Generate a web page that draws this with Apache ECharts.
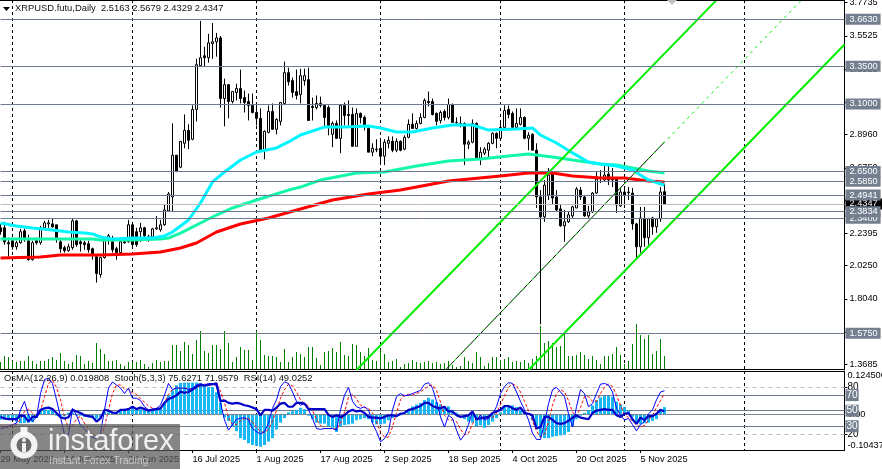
<!DOCTYPE html>
<html><head><meta charset="utf-8">
<script src="https://cdn.jsdelivr.net/npm/echarts@6/dist/echarts.min.js"></script>
<style>html,body{margin:0;padding:0;background:#fff}#c{width:882px;height:469px}</style>
</head><body><div id="c"></div>
<script>
const startDate = '2025-05-29';
const totalBars = 212;
const opens = [2.276,2.276,2.177,2.190,2.150,2.177,2.256,2.190,2.064,2.190,2.177,2.276,2.302,2.302,2.296,2.183,2.144,2.124,2.144,2.322,2.183,2.177,2.170,2.137,2.084,1.965,2.078,2.197,2.183,2.137,2.111,2.183,2.183,2.296,2.250,2.250,2.276,2.216,2.216,2.269,2.263,2.296,2.388,2.481,2.759,2.679,2.838,2.924,2.865,3.063,3.354,3.420,3.407,3.500,3.513,3.539,3.136,3.228,3.116,3.176,3.202,3.142,3.116,3.090,3.043,3.004,2.792,2.911,3.050,2.931,2.984,3.103,3.308,3.255,3.182,3.162,3.255,3.261,3.083,3.076,3.103,3.090,3.076,2.898,2.970,2.871,3.090,3.030,3.030,2.818,3.037,3.010,2.937,2.779,2.799,2.805,2.752,2.838,2.851,2.792,2.851,2.799,2.878,2.964,2.937,2.970,3.010,3.116,3.116,3.037,2.990,3.050,3.010,3.096,2.977,2.970,2.970,2.832,2.845,2.970,2.739,2.772,2.792,2.838,2.904,2.871,2.944,3.063,3.037,2.944,2.964,3.010,2.871,2.898,2.792,2.481,2.349,2.494,2.640,2.481,2.402,2.289,2.316,2.355,2.408,2.527,2.481,2.355,2.382,2.507,2.607,2.594,2.633,2.607,2.600,2.422,2.514,2.514,2.507,2.302,2.150,2.336,2.210,2.342,2.283,2.336,2.5163];
const closes = [2.250,2.183,2.170,2.150,2.177,2.250,2.210,2.064,2.177,2.177,2.276,2.309,2.309,2.283,2.210,2.137,2.124,2.150,2.322,2.164,2.170,2.164,2.130,2.097,1.972,2.078,2.197,2.223,2.130,2.111,2.183,2.177,2.296,2.164,2.164,2.276,2.223,2.210,2.269,2.276,2.296,2.395,2.501,2.759,2.653,2.851,2.924,2.858,3.063,3.361,3.407,3.407,3.506,3.513,3.539,3.136,3.228,3.116,3.182,3.202,3.136,3.109,3.090,3.043,3.004,2.792,2.918,3.050,2.931,2.997,3.109,3.308,3.248,3.176,3.156,3.288,3.288,2.990,3.076,3.103,3.090,3.010,2.957,2.970,2.871,3.090,3.023,3.023,2.818,3.037,3.010,2.951,2.779,2.805,2.795,2.752,2.845,2.858,2.792,2.851,2.792,2.878,2.964,2.937,2.970,3.010,3.123,3.109,3.030,2.984,3.043,3.010,3.096,2.977,2.975,2.964,2.832,2.845,2.970,2.739,2.779,2.799,2.838,2.904,2.871,2.944,3.056,3.030,2.944,2.970,3.010,2.871,2.891,2.792,2.481,2.349,2.560,2.627,2.474,2.395,2.289,2.316,2.362,2.415,2.534,2.481,2.355,2.382,2.507,2.600,2.605,2.627,2.594,2.594,2.428,2.514,2.494,2.510,2.302,2.150,2.342,2.210,2.336,2.283,2.336,2.514,2.4347];
const highs = [2.302,2.316,2.210,2.210,2.190,2.269,2.269,2.230,2.190,2.210,2.289,2.322,2.329,2.336,2.296,2.197,2.157,2.170,2.336,2.329,2.197,2.190,2.190,2.144,2.097,2.084,2.210,2.236,2.223,2.150,2.190,2.197,2.329,2.316,2.276,2.309,2.283,2.230,2.276,2.355,2.329,2.428,2.514,2.970,2.759,2.851,3.030,2.964,3.090,3.400,3.652,3.480,3.566,3.638,3.572,3.552,3.268,3.228,3.182,3.235,3.328,3.189,3.169,3.169,3.103,3.070,2.924,3.090,3.103,3.004,3.109,3.381,3.341,3.275,3.328,3.334,3.334,3.341,3.142,3.156,3.149,3.096,3.090,2.984,2.990,3.090,3.109,3.123,3.076,3.070,3.043,3.023,2.944,2.838,2.865,2.858,2.865,2.884,2.884,2.871,2.858,2.891,2.997,3.037,2.990,3.037,3.136,3.182,3.136,3.043,3.056,3.063,3.136,3.103,3.010,3.017,2.977,2.858,2.997,2.977,2.812,2.812,2.845,2.911,2.911,2.977,3.090,3.090,3.050,3.070,3.070,3.017,2.911,2.904,2.838,2.527,2.594,2.673,2.653,2.527,2.435,2.395,2.388,2.422,2.547,2.547,2.488,2.422,2.514,2.646,2.660,2.693,2.693,2.673,2.607,2.541,2.547,2.547,2.541,2.309,2.415,2.415,2.342,2.349,2.342,2.547,2.5679];
const lows = [2.230,2.164,2.084,2.130,2.130,2.170,2.183,2.058,2.058,2.164,2.164,2.263,2.276,2.276,2.177,2.111,2.111,2.117,2.130,2.150,2.117,2.130,2.111,2.064,1.912,1.945,2.071,2.164,2.111,2.064,2.104,2.170,2.177,2.137,2.150,2.183,2.197,2.183,2.197,2.263,2.250,2.289,2.382,2.388,2.646,2.673,2.805,2.799,2.858,2.984,3.347,3.347,3.374,3.400,3.414,3.076,2.951,3.004,3.103,3.123,3.103,3.043,2.990,3.037,2.957,2.779,2.732,2.904,2.931,2.898,2.957,3.096,3.222,3.142,3.129,3.103,3.222,2.990,2.990,3.063,3.076,2.944,2.891,2.812,2.871,2.772,2.957,2.957,2.818,2.818,2.970,2.924,2.779,2.752,2.779,2.693,2.693,2.805,2.779,2.779,2.785,2.792,2.871,2.937,2.931,2.964,3.004,3.083,3.023,2.957,2.970,2.990,2.997,2.977,2.964,2.944,2.693,2.799,2.838,2.732,2.693,2.759,2.746,2.832,2.805,2.865,2.937,3.004,2.937,2.937,2.957,2.865,2.792,2.792,2.408,1.634,2.316,2.461,2.435,2.382,2.283,2.183,2.309,2.342,2.408,2.461,2.349,2.342,2.375,2.501,2.574,2.580,2.560,2.547,2.375,2.415,2.408,2.461,2.263,2.078,2.111,2.150,2.164,2.230,2.243,2.316,2.4329];
const volumes = [7,13,12,8,7,8,8,13,8,5,8,8,10,12,9,16,8,5,7,14,13,5,8,6,26,20,15,8,8,9,5,3,7,7,7,9,5,2,6,9,7,8,8,24,24,18,27,24,15,29,38,18,16,24,24,20,38,26,7,12,22,19,19,9,38,29,14,13,13,12,7,20,7,12,17,15,12,22,22,11,4,17,18,21,17,27,14,13,25,24,17,13,21,9,8,20,15,7,8,10,2,5,6,9,7,6,7,8,6,7,5,6,8,4,2,3,12,8,6,17,12,3,6,12,12,9,10,12,7,8,7,9,6,10,13,43,26,28,26,22,23,35,13,13,14,17,14,10,13,9,5,13,13,15,22,14,5,8,25,45,34,30,34,15,18,30,13];
const cyanBars = [0,4,8,13,17,21,23,25,28,33,38,41,43,47,50,53,56,60,64,69,72,75,78,81,86,92,95,99,103,108,113,118,122,129,133,135,139,143,147,150,154,158,162,166];
const cyanValues = [2.308,2.288,2.275,2.262,2.248,2.241,2.235,2.215,2.202,2.208,2.208,2.222,2.248,2.328,2.441,2.581,2.647,2.727,2.780,2.807,2.847,2.893,2.920,2.946,2.946,2.953,2.940,2.913,2.913,2.940,2.960,2.960,2.926,2.933,2.940,2.893,2.840,2.774,2.714,2.700,2.687,2.660,2.594,2.561];
const springBars = [0,23,25,33,40,42,45,50,54,58,64,72,75,80,89,96,104,112,120,127,132,138,143,150,154,158,162,166];
const springValues = [2.202,2.202,2.195,2.195,2.202,2.208,2.241,2.308,2.361,2.408,2.461,2.527,2.547,2.594,2.641,2.647,2.687,2.720,2.734,2.754,2.767,2.747,2.727,2.700,2.694,2.674,2.654,2.641];
const redBars = [0,10,15,25,33,40,45,49,54,60,67,75,83,92,100,112,125,132,138,143,150,156,162,166];
const redValues = [2.075,2.082,2.095,2.095,2.102,2.115,2.142,2.175,2.248,2.301,2.341,2.401,2.461,2.501,2.527,2.587,2.621,2.641,2.641,2.621,2.607,2.607,2.587,2.581];
const channelUpper = [[89,1.33],[179,3.79]];
const channelLower = [[132,1.33],[211,3.495]];
const channelMid = [[111,1.324],[200,3.784]];
const trendBlack = [[111,1.324],[166,2.847]];
const priceLevels = [3.6630,3.3500,3.1000,2.6500,2.5850,2.4941,2.3400,2.3834,1.5750];
const lastPrice = 2.4347;
const priceTicks = [3.7735,3.5525,3.3315,3.1105,2.8960,2.6750,2.4605,2.2395,2.0250,1.8040,1.5830,1.3685];
const osma = [-.017,-.017,-.016,-.017,-.022,-.027,-.026,-.025,-.024,-.012,.012,.012,.012,.012,-.005,-.007,-.007,.004,.004,-.005,-.005,-.008,-.010,-.012,-.014,-.010,.006,.005,.004,.005,.010,.014,.016,.016,.015,.014,.012,.010,.012,.013,.018,.033,.053,.068,.083,.09,.091,.091,.091,.091,.088,.08,.078,.078,.063,.033,-.01,-.02,-.035,-.05,-.07,-.075,-.085,-.09,-.092,-.095,-.09,-.08,-.07,-.045,-.025,-.012,.005,.008,.012,.018,.014,-.005,-.015,-.025,-.028,-.028,-.035,-.04,-.052,-.035,-.032,-.03,-.028,-.018,-.015,-.012,-.015,-.025,-.03,-.03,-.028,-.018,-.012,-.008,-.004,.003,.012,.022,.027,.032,.040,.047,.042,.035,.028,.022,.022,.012,.004,-.004,-.015,-.022,-.025,-.035,-.033,-.04,-.032,-.022,-.012,.005,.022,.025,.025,.02,.012,.003,-.003,-.018,-.04,-.066,-.07,-.07,-.066,-.064,-.062,-.06,-.052,-.035,-.015,-.005,.003,.01,.025,.04,.048,.052,.052,.05,.036,.028,.02,.01,-.008,-.025,-.03,-.027,-.025,-.02,-.015,.012,.0198];
const stochMain = [27,28,30,32,34,51,62,44,36,42,72,90,92,85,64,42,19,19,53,44,31,27,19,16,14,21,51,79,87,83,79,72,79,66,66,63,55,51,52,53,57,70,85,77,79,79,79,77,79,83,85,83,85,85,81,60,38,25,32,39,40,41,38,27,23,20,23,34,53,64,81,87,85,74,62,57,59,51,40,27,26,27,27,27,25,51,70,80,62,55,53,55,51,34,23,10,14,23,51,68,72,69,70,72,74,76,84,86,79,62,42,29,44,40,25,12,19,32,49,38,44,38,40,46,55,72,81,86,85,74,62,51,38,21,13,13,34,59,77,80,74,68,46,29,55,77,72,55,59,72,84,85,83,74,53,44,38,40,32,24,32,36,46,51,64,74,75.63];
const stochSignal = [30,29,28,30,32,39,49,52,47,41,50,68,85,89,80,64,42,27,31,39,43,34,26,21,16,17,29,51,72,83,83,78,77,73,71,65,61,56,53,52,54,60,71,77,80,78,79,78,78,79,82,84,84,84,84,75,60,41,32,32,37,40,40,35,29,23,22,26,37,50,66,77,84,82,74,64,59,56,50,39,31,27,27,27,26,34,48,67,71,65,57,54,53,47,36,22,16,16,29,47,64,70,71,70,72,74,78,82,83,76,61,44,38,38,36,26,19,21,33,40,44,40,41,41,47,58,69,80,84,82,74,62,50,37,24,16,20,35,57,72,77,74,63,48,43,54,68,68,62,62,72,80,84,81,70,57,45,41,37,32,29,31,38,44,54,63,71.96];
const rsi = [42,40,39,39,39,44,43,36,42,42,51,53,54,52,47,41.5,40,41.5,51,49,47,44,43,42,36,40,51,50,47.5,47,51,51,52,55,52,54,52,50,51,52,53,60,65,67,70,74.5,73,74,77,81,83,82,83,84,85,62.5,63,60,59,60,59,57,56,54,52,44,51,51,50,54,59,60,55,55,60,60,59,52,52,52,52,52,44.5,42,44,42,44,49,51,49,50,47,42,41,41,40,42,44,44,43,46,47,51,52,54,56,60,60,56,54,53,55,49,49,44,42,43,44,49,39,40,41,42,47,49,51,56,56,53,51,54,47,46,44,27,29,42,42,38,34,33,34,37,41,44,41,40,39,47,50,51,52,51,51,44,42,46,47,39,33,41,38,43,43,46,51,49.03];
const oscDashed = [80,20];
const oscSolid = [70,50,30];
const osmaBounds = [-0.10437,0,0.124506];
const titleText = 'XRPUSD.futu,Daily  2.5163 2.5679 2.4329 2.4347';
const indicatorText = 'OsMA(12,26,9) 0.019808  Stoch(5,3,3) 75.6271 71.9579  RSI(14) 49.0252';
const months = ['Jan','Feb','Mar','Apr','May','Jun','Jul','Aug','Sep','Oct','Nov','Dec'];

const cats = [], pretty = [];
{ const d0 = new Date(startDate + 'T00:00:00Z');
  for (let i = 0; i < totalBars; i++) {
    const d = new Date(d0.getTime() + i * 864e5);
    cats.push(d.toISOString().slice(0, 10));
    pretty.push(d.getUTCDate() + ' ' + months[d.getUTCMonth()] + ' ' + d.getUTCFullYear());
  } }
const monthStart = (idx) => cats[idx].endsWith('-01');
const pairs = (b, v) => b.map((x, i) => [x, v[i]]);
const FONT = 'Liberation Sans';
const SLATE = '#6e7b8e';
const ohlc = opens.map((o, i) => [o, closes[i], lows[i], highs[i]]);
const boxLabel = {show:true, position:'end', distance:1, color:'#fff', backgroundColor:'#737f8f', padding:[1,3,1,4], fontFamily:FONT, fontSize:9.2};

const xBase = {type:'category', data:cats, boundaryGap:false, axisLine:{onZero:false, lineStyle:{color:'#000'}},
  splitLine:{show:true, interval:monthStart, lineStyle:{color:'#000', type:[3,3], width:1}}};
const yBase = {position:'right', scale:false, splitLine:{show:false}, axisLine:{show:true, lineStyle:{color:'#000'}},
  axisTick:{show:true, length:3, lineStyle:{color:'#000'}},
  axisLabel:{color:'#000', fontFamily:FONT, fontSize:9.2, margin:5, formatter:v=>v.toFixed(4), showMinLabel:true, showMaxLabel:true}};

const gear = [];
for (let a = 0; a < 8; a++) gear.push({type:'rect', x:24, y:445, originX:24, originY:445, rotation:a*Math.PI/4,
  shape:{x:-3.5, y:-18, width:7, height:8}, style:{fill:'rgba(255,255,255,.9)'}, z:101});

const option = {
  animation:false, backgroundColor:'#fff',
  grid:[{left:0.5, right:37.5, top:0, height:369, outerBoundsMode:'none'}, {left:0.5, right:37.5, top:371, height:79, outerBoundsMode:'none'}],
  xAxis:[
    Object.assign({}, xBase, {gridIndex:0, axisTick:{show:false}, axisLabel:{show:false}}),
    Object.assign({}, xBase, {gridIndex:1,
      axisTick:{show:true, length:3, interval:(i)=>i%16===0&&i<=166, lineStyle:{color:'#000'}},
      axisLabel:{show:true, interval:(i)=>i%16===0&&i<=166, formatter:(v,i)=>pretty[i], align:'left', margin:5, color:'#000', fontFamily:FONT, fontSize:9.2, showMinLabel:true}})
  ],
  yAxis:[
    Object.assign({}, yBase, {gridIndex:0, min:1.337, max:3.791,
      axisLabel:Object.assign({}, yBase.axisLabel, {customValues:priceTicks}), axisTick:Object.assign({}, yBase.axisTick, {customValues:priceTicks})}),
    {gridIndex:0, position:'right', min:0, max:369, show:false},
    Object.assign({}, yBase, {gridIndex:1, min:-0.6, max:101,
      axisLabel:Object.assign({}, yBase.axisLabel, {customValues:oscDashed, formatter:v=>String(v), margin:3, fontSize:10}), axisTick:Object.assign({}, yBase.axisTick, {customValues:oscDashed})}),
    Object.assign({}, yBase, {gridIndex:1, min:-0.10437, max:0.124506, axisLine:{show:false}, axisTick:{show:false},
      axisLabel:Object.assign({}, yBase.axisLabel, {customValues:osmaBounds, formatter:v=>v===0?'0.00':String(v), margin:3, verticalAlignMinLabel:'bottom', verticalAlignMaxLabel:'top'})})
  ],
  series:[
    {type:'bar', name:'Volume', xAxisIndex:0, yAxisIndex:1, data:volumes, barWidth:1, itemStyle:{color:'#008000'}, z:1, silent:true},
    {type:'candlestick', name:'XRPUSD', xAxisIndex:0, yAxisIndex:0, data:ohlc, barWidth:3, z:3,
      itemStyle:{color:'#fff', color0:'#000', borderColor:'#000', borderColor0:'#000', borderColorDoji:'#000', borderWidth:1},
      markLine:{silent:true, symbol:'none', animation:false, precision:4, z:8,
        lineStyle:{color:SLATE, width:1, type:'solid'},
        data:[{yAxis:lastPrice, lineStyle:{color:'#bdbdbd'}, label:Object.assign({}, boxLabel, {backgroundColor:'#000', padding:[1,6,1,4], formatter:lastPrice.toFixed(4)})}]
          .concat(priceLevels.map(p=>({yAxis:p, label:Object.assign({}, boxLabel, {formatter:p.toFixed(4)})})))}},
    {type:'line', name:'MA cyan', xAxisIndex:0, yAxisIndex:0, data:pairs(cyanBars,cyanValues), showSymbol:false, lineStyle:{color:'#00f6ff', width:3}, z:5},
    {type:'line', name:'MA spring', xAxisIndex:0, yAxisIndex:0, data:pairs(springBars,springValues), showSymbol:false, lineStyle:{color:'#12f8a8', width:3}, z:4},
    {type:'line', name:'MA red', xAxisIndex:0, yAxisIndex:0, data:pairs(redBars,redValues), showSymbol:false, lineStyle:{color:'#ff0000', width:3}, z:4},
    {type:'line', name:'Channel upper', xAxisIndex:0, yAxisIndex:0, data:channelUpper, showSymbol:false, lineStyle:{color:'#00ee00', width:2}, z:6},
    {type:'line', name:'Channel lower', xAxisIndex:0, yAxisIndex:0, data:channelLower, showSymbol:false, lineStyle:{color:'#00ee00', width:2}, z:6},
    {type:'line', name:'Trend', xAxisIndex:0, yAxisIndex:0, data:trendBlack, showSymbol:false, lineStyle:{color:'#000', width:1}, z:6},
    {type:'line', name:'Channel mid', xAxisIndex:0, yAxisIndex:0, data:channelMid, showSymbol:false, lineStyle:{color:'#00ee00', width:1, type:[3,4]}, z:7},
    {type:'bar', name:'OsMA', xAxisIndex:1, yAxisIndex:3, data:osma, barWidth:3, itemStyle:{color:'#16b7f2'}, z:3, silent:true,
      markLine:{silent:true, symbol:'none', animation:false, label:{show:false}, lineStyle:{color:'#7f8794', width:1, type:'solid'}, data:[{yAxis:0}]}},
    {type:'line', name:'Stoch', xAxisIndex:1, yAxisIndex:2, data:stochMain, showSymbol:false, lineStyle:{color:'#0000ff', width:1}, z:5,
      markLine:{silent:true, symbol:'none', animation:false, z:2,
        data:oscDashed.map(v=>({yAxis:v, label:{show:false}, lineStyle:{color:'#bcbcbc', width:1, type:[4,4]}}))
          .concat(oscSolid.map(v=>({yAxis:v, lineStyle:{color:SLATE, width:1, type:'solid'}, label:Object.assign({}, boxLabel, {formatter:String(v), fontSize:10, padding:[1,1,1,1]})})))}},
    {type:'line', name:'Signal', xAxisIndex:1, yAxisIndex:2, data:stochSignal, showSymbol:false, lineStyle:{color:'#ff0000', width:1, type:[3,2]}, z:4},
    {type:'line', name:'RSI', xAxisIndex:1, yAxisIndex:2, data:rsi, showSymbol:false, lineStyle:{color:'#0000c8', width:2.2}, z:6}
  ],
  graphic:[
    {type:'line', shape:{x1:0,y1:0.5,x2:844,y2:0.5}, style:{stroke:'#000', lineWidth:1}, z:50},
    {type:'line', shape:{x1:0,y1:371.5,x2:844,y2:371.5}, style:{stroke:'#000', lineWidth:1}, z:50},
    {type:'polygon', shape:{points:[[3,7],[10,7],[6.5,11]]}, style:{fill:'#000'}, z:60},
    {type:'polygon', shape:{points:[[667,0],[677,0],[672,5]]}, style:{fill:'#c0c0c0'}, z:60},
    {type:'text', x:15, y:4, style:{text:titleText, fill:'#111', font:'9.4px "'+FONT+'"', textBaseline:'top'}, z:60},
    {type:'text', x:4, y:374, style:{text:indicatorText, fill:'#111', font:'9.4px "'+FONT+'"', textBaseline:'top'}, z:60},
    {type:'rect', shape:{x:0,y:424,width:180,height:45}, style:{fill:'rgba(88,88,88,.72)'}, z:100},
    ...gear,
    {type:'circle', shape:{cx:24,cy:445,r:13.5}, style:{fill:'rgba(255,255,255,.9)'}, z:101},
    {type:'circle', shape:{cx:24,cy:445,r:7.5}, style:{fill:'#6a6a6a'}, z:102},
    {type:'rect', shape:{x:22,y:443,width:4,height:9}, style:{fill:'rgba(255,255,255,.9)'}, z:103},
    {type:'circle', shape:{cx:24,cy:440,r:2}, style:{fill:'rgba(255,255,255,.9)'}, z:103},
    {type:'text', x:48, y:427, style:{text:'instaforex', fill:'rgba(255,255,255,.88)', font:'29px "'+FONT+'"', textBaseline:'top'}, z:101},
    {type:'text', x:49, y:456, style:{text:'Instant Forex Trading', fill:'rgba(255,255,255,.55)', font:'10.5px "'+FONT+'"', textBaseline:'top'}, z:101}
  ]
};
const chart = echarts.init(document.getElementById('c'), null, {renderer:'canvas'});
chart.setOption(option);
</script></body></html>
